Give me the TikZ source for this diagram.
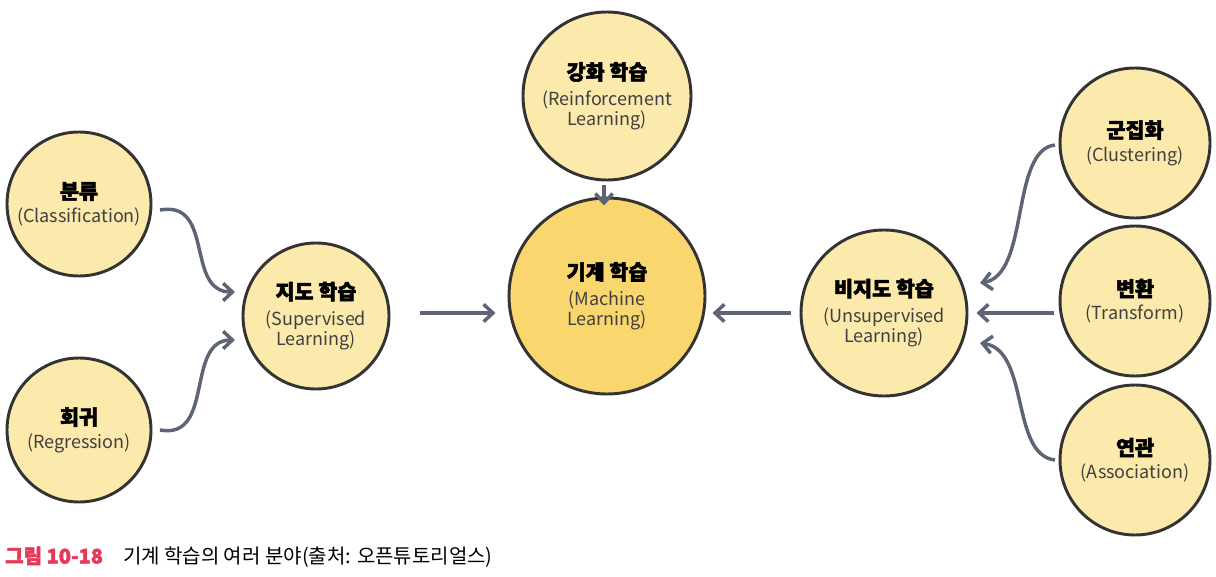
\documentclass[tikz,border=0pt]{standalone}
\usepackage{fontspec}
\setmainfont{Noto Sans CJK KR}[BoldFeatures={FakeBold=2.5}]
\usetikzlibrary{arrows.meta}
\begin{document}
\begin{tikzpicture}[x=0.75pt,y=-0.75pt,
  c/.style={circle,draw=black!80,line width=2.2pt,fill=cfill,align=center,inner sep=0pt},
  ar/.style={draw=arr,line width=2.6pt,-{Straight Barb[length=7pt,width=13pt,line width=2.6pt]}}]
\definecolor{cfill}{HTML}{FCE9AC}
\definecolor{cmain}{HTML}{FAD66E}
\definecolor{arr}{HTML}{5C6476}
\definecolor{cap}{HTML}{E5395A}
\newcommand{\myT}[1]{{\fontsize{15.5}{18}\selectfont\bfseries #1}}
\newcommand{\myE}[1]{{\fontsize{13.5}{17}\selectfont\color{black!75}#1}}
\useasboundingbox (0,0) rectangle (1216,577);
\node[c,minimum size=144*0.75pt] (cls) at (79,204) {\myT{분류}\\[4pt]\myE{(Classification)}};
\node[c,minimum size=144*0.75pt] (reg) at (79,430) {\myT{회귀}\\[4pt]\myE{(Regression)}};
\node[c,minimum size=146*0.75pt] (sup) at (316,316) {\myT{지도 학습}\\[6pt]\myE{(Supervised}\\\myE{Learning)}};
\node[c,fill=cmain,minimum size=196*0.75pt] (ml) at (607,296) {\myT{기계 학습}\\[6pt]\myE{(Machine}\\\myE{Learning)}};
\node[c,minimum size=168*0.75pt] (rl) at (607,96) {\myT{강화 학습}\\[6pt]\myE{(Reinforcement}\\\myE{Learning)}};
\node[c,minimum size=166*0.75pt] (uns) at (884,313) {\myT{비지도 학습}\\[6pt]\myE{(Unsupervised}\\\myE{Learning)}};
\node[c,minimum size=150*0.75pt] (clu) at (1135,143) {\myT{군집화}\\[4pt]\myE{(Clustering)}};
\node[c,minimum size=150*0.75pt] (tra) at (1135,301) {\myT{변환}\\[4pt]\myE{(Transform)}};
\node[c,minimum size=150*0.75pt] (ass) at (1135,460) {\myT{연관}\\[4pt]\myE{(Association)}};
\coordinate (a1) at (160,210); \coordinate (b1) at (235,292);
\coordinate (a2) at (160,430); \coordinate (b2) at (235,340);
\coordinate (a3) at (1055,145); \coordinate (b3) at (980,283);
\coordinate (a4) at (1055,460); \coordinate (b4) at (980,343);
\draw[ar] (a1) .. controls (215,200) and (185,292) .. (b1);
\draw[ar] (a2) .. controls (215,440) and (185,340) .. (b2);
\draw[ar] (a3) .. controls (1010,150) and (1030,275) .. (b3);
\draw[ar] (a4) .. controls (1010,455) and (1030,350) .. (b4);
\draw[ar] (sup.east) ++(30,-3) -- ++(75,0);
\draw[ar] (rl.south) ++(-3,4) -- ++(0,20);
\draw[ar] (uns.west) ++(-9,0) -- ++(-78,0);
\draw[ar] (tra.west) ++(-5,12) -- ++(-77,0);
\node[anchor=west,inner sep=0pt,font=\fontsize{15}{18}\selectfont] (capt) at (5,557) {{\bfseries\color{cap}그림 10-18}\quad 기계 학습의 여러 분야(출처: 오픈튜토리얼스)};
\end{tikzpicture}
\end{document}
